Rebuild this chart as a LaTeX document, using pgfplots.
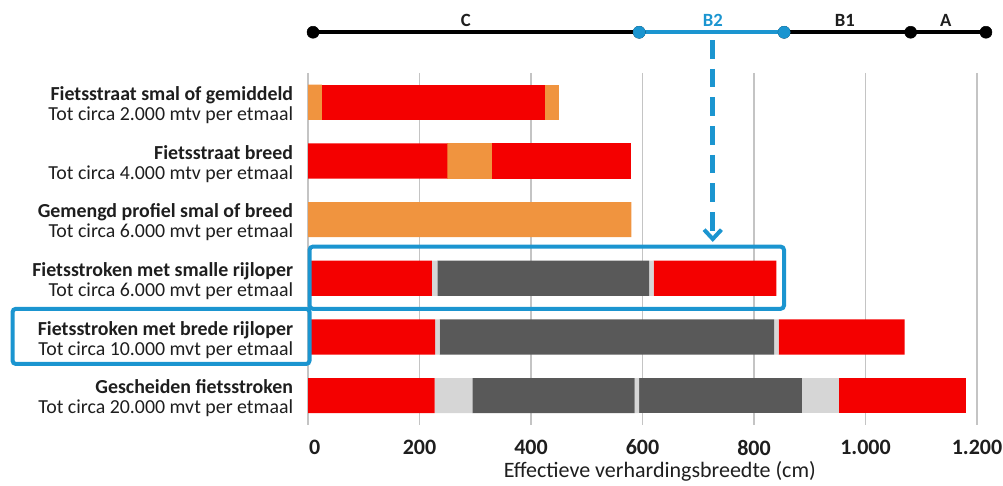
\documentclass[border=0pt]{standalone}
\usepackage{fontspec}
\setmainfont{Carlito}
\usepackage{pgfplots}
\pgfplotsset{compat=1.18}
\usetikzlibrary{arrows.meta}
\definecolor{cRed}{HTML}{F40000}
\definecolor{cOrange}{HTML}{F0943F}
\definecolor{cDark}{HTML}{595959}
\definecolor{cLight}{HTML}{D6D6D6}
\definecolor{cBlue}{HTML}{1B95D0}
\definecolor{cGrid}{HTML}{C4C4C4}
\definecolor{cText}{HTML}{1E1E1E}
\begin{document}
\begin{tikzpicture}
\pgfplotsset{commonax/.style={scale only axis, width=501.75pt, height=264pt,
  xmin=0, xmax=1200, ymin=0.5, ymax=6.5, y dir=reverse}}
\begin{axis}[commonax, xbar stacked, bar width=0.6,
  axis line style={draw=none}, major tick length=0pt,
  xmajorgrids, grid style={draw=cGrid, line width=1.1pt},
  xtick={0,200,400,600,800,1000,1200},
  xticklabels={\hspace*{10pt}0,200,400,600,800,1.000,1.200},
  xticklabel style={font=\bfseries\fontsize{16.5}{18}\selectfont, inner sep=0pt, anchor=north, yshift=-11pt, text=cText},
  ytick={1,2,3,4,5,6},
  yticklabels={
    {\textbf{Fietsstraat smal of gemiddeld}\\Tot circa 2.000 mtv per etmaal},
    {\textbf{Fietsstraat breed}\\Tot circa 4.000 mtv per etmaal},
    {\textbf{Gemengd profiel smal of breed}\\Tot circa 6.000 mvt per etmaal},
    {\textbf{Fietsstroken met smalle rijloper}\\Tot circa 6.000 mvt per etmaal},
    {\textbf{Fietsstroken met brede rijloper}\\Tot circa 10.000 mvt per etmaal},
    {\textbf{Gescheiden fietsstroken}\\Tot circa 20.000 mvt per etmaal}},
  yticklabel style={align=right, font=\fontsize{14.9}{15}\selectfont, inner sep=0pt, anchor=east, xshift=-11pt, yshift=-2.2pt, text=cText},
  ]
% position 1
\addplot[fill=cRed, draw=none] coordinates {(0,1) (250,2) (0,3) (222,4) (228,5) (227,6)};
\addplot[fill=cOrange, draw=none] coordinates {(25,1) (0,2) (580,3) (0,4) (0,5) (0,6)};
% position 2
\addplot[fill=cLight, draw=none] coordinates {(0,1) (0,2) (0,3) (10,4) (8,5) (68,6)};
\addplot[fill=cRed, draw=none] coordinates {(400,1) (0,2) (0,3) (0,4) (0,5) (0,6)};
\addplot[fill=cOrange, draw=none] coordinates {(0,1) (80,2) (0,3) (0,4) (0,5) (0,6)};
% position 3
\addplot[fill=cDark, draw=none] coordinates {(0,1) (0,2) (0,3) (380,4) (600,5) (291,6)};
\addplot[fill=cOrange, draw=none] coordinates {(25,1) (0,2) (0,3) (0,4) (0,5) (0,6)};
\addplot[fill=cRed, draw=none] coordinates {(0,1) (250,2) (0,3) (0,4) (0,5) (0,6)};
% position 4
\addplot[fill=cLight, draw=none] coordinates {(0,1) (0,2) (0,3) (8,4) (8,5) (8,6)};
% position 5
\addplot[fill=cRed, draw=none] coordinates {(0,1) (0,2) (0,3) (220,4) (226,5) (0,6)};
\addplot[fill=cDark, draw=none] coordinates {(0,1) (0,2) (0,3) (0,4) (0,5) (292,6)};
% position 6
\addplot[fill=cLight, draw=none] coordinates {(0,1) (0,2) (0,3) (0,4) (0,5) (67,6)};
% position 7
\addplot[fill=cRed, draw=none] coordinates {(0,1) (0,2) (0,3) (0,4) (0,5) (227,6)};
\end{axis}
\begin{axis}[commonax, hide axis, clip=false]
\addplot[black, line width=3.2pt, mark=*, mark size=4.5pt, mark options={line width=0.4pt}] coordinates {(9,-0.194) (594,-0.194)};
\addplot[black, line width=3.2pt, mark=*, mark size=4.5pt, mark options={line width=0.4pt}] coordinates {(854,-0.194) (1081,-0.194) (1216,-0.194)};
\addplot[cBlue, line width=3.2pt, mark=*, mark size=4.5pt, mark options={line width=0.4pt}] coordinates {(594,-0.194) (854,-0.194)};
\node[font=\bfseries\fontsize{14}{15}\selectfont, text=cText] at (axis cs:283,-0.39) {C};
\node[font=\bfseries\fontsize{14}{15}\selectfont, text=cBlue] at (axis cs:726,-0.39) {B2};
\node[font=\bfseries\fontsize{14}{15}\selectfont, text=cText] at (axis cs:963,-0.39) {B1};
\node[font=\bfseries\fontsize{14}{15}\selectfont, text=cText] at (axis cs:1144,-0.39) {A};
\draw[cBlue, line width=3.75pt, dash pattern=on 14pt off 7.5pt, -{Straight Barb[length=7pt, width=13pt, line width=3pt]}] (axis cs:726,-0.06) -- (axis cs:726,3.38);
\draw[cBlue, line width=3pt, rounded corners=2.5pt] (axis cs:2.7,3.46) rectangle (axis cs:853.8,4.52);
\draw[cBlue, line width=3pt, rounded corners=2.5pt] (axis cs:-530,4.52) rectangle (axis cs:2.7,5.46);
\node[anchor=base, font=\fontsize{16.5}{18}\selectfont, text=cText] at (axis cs:631,7.40) {Effectieve verhardingsbreedte (cm)};
\coordinate (bbA) at (axis cs:-552.5,-0.744);
\coordinate (bbB) at (axis cs:1246.6,7.54);
\end{axis}
\pgfresetboundingbox
\path[use as bounding box] (bbA) rectangle (bbB);
\end{tikzpicture}
\end{document}
